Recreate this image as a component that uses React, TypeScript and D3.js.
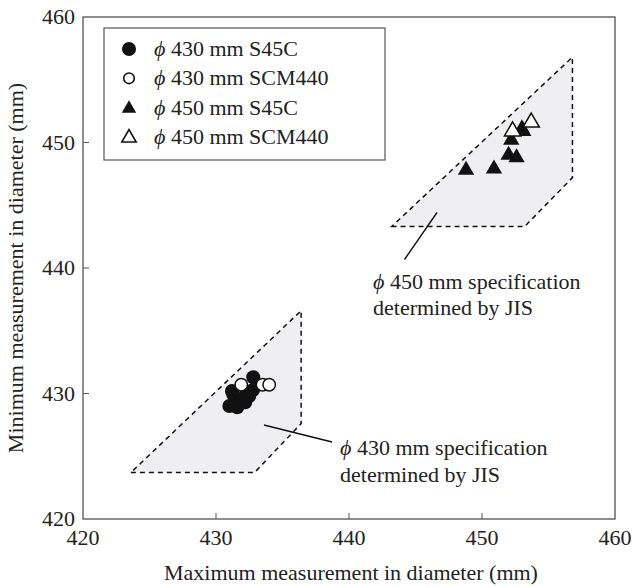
import * as d3 from "d3";

// measured points: [max diameter, min diameter]
const d430S45C: [number, number][] = [
  [431.0, 429.0], [431.3, 429.9], [431.6, 428.9], [431.8, 429.5], [432.2, 429.3],
  [432.3, 430.0], [432.8, 430.3], [432.8, 431.3], [431.2, 430.2], [432.5, 429.8],
];
const d430SCM440: [number, number][] = [[431.9, 430.7], [433.5, 430.7], [434.0, 430.7]];
const d450S45C: [number, number][] = [
  [448.8, 447.8], [450.9, 447.9], [452.0, 449.0], [452.6, 448.8],
  [452.2, 450.2], [453.0, 451.1], [453.1, 450.9],
];
const d450SCM440: [number, number][] = [[452.3, 450.9], [453.7, 451.6]];

// JIS specification regions (polygon vertices)
const spec430: [number, number][] = [[423.6, 423.7], [432.9, 423.7], [436.4, 427.6], [436.4, 436.6]];
const spec450: [number, number][] = [[443.2, 443.3], [453.2, 443.3], [456.8, 447.2], [456.8, 456.8]];

const ticks = [420, 430, 440, 450, 460];
const legendItems = [
  { label: "430 mm S45C", shape: "circle", filled: true },
  { label: "430 mm SCM440", shape: "circle", filled: false },
  { label: "450 mm S45C", shape: "triangle", filled: true },
  { label: "450 mm SCM440", shape: "triangle", filled: false },
];

const PHI = "\u03D5";

export default function App() {
  const width = 632;
  const height = 587;
  const left = 83, right = 615, top = 17, bottom = 519;
  const font = "Liberation Serif";
  const ink = "#222";

  const x = d3.scaleLinear().domain([420, 460]).range([left, right]);
  const y = d3.scaleLinear().domain([420, 460]).range([bottom, top]);

  const tri = d3.symbol().type(d3.symbolTriangle).size(115)();
  const triLegend = d3.symbol().type(d3.symbolTriangle).size(90)();

  const poly = (pts: [number, number][]) =>
    pts.map(p => `${x(p[0])},${y(p[1])}`).join(" ");

  return (
    <svg width={width} height={height} style={{ position: "absolute", left: 0, top: 0, background: "#fff" }}>
      {/* spec regions */}
      {[spec430, spec450].map((s, i) => (
        <polygon key={i} points={poly(s)} fill="#efeff2" stroke="#111"
          strokeWidth={1.5} strokeDasharray="5,4" />
      ))}

      {/* frame */}
      <rect x={left} y={top} width={right - left} height={bottom - top}
        fill="none" stroke="#444" strokeWidth={1.2} />

      {/* ticks */}
      {ticks.slice(1, -1).map(t => (
        <g key={t}>
          <line x1={x(t)} x2={x(t)} y1={bottom} y2={bottom - 6} stroke="#555" />
          <line x1={left} x2={left + 6} y1={y(t)} y2={y(t)} stroke="#555" />
        </g>
      ))}
      {ticks.map(t => (
        <g key={"l" + t} fontFamily={font} fontSize={22} fill={ink}>
          <text x={x(t)} y={545} textAnchor="middle">{t}</text>
          <text x={75} y={y(t) + 7} textAnchor="end">{t}</text>
        </g>
      ))}

      {/* axis titles */}
      <text x={(left + right) / 2 + 2} y={580} textAnchor="middle" fontFamily={font} fontSize={22} fill={ink}>
        Maximum measurement in diameter (mm)
      </text>
      <text transform={`translate(23,${(top + bottom) / 2}) rotate(-90)`} textAnchor="middle"
        fontFamily={font} fontSize={22} fill={ink}>
        Minimum measurement in diameter (mm)
      </text>

      {/* points */}
      {d430S45C.map((d, i) => (
        <circle key={"a" + i} cx={x(d[0])} cy={y(d[1])} r={7} fill="#111" />
      ))}
      {d430SCM440.map((d, i) => (
        <circle key={"b" + i} cx={x(d[0])} cy={y(d[1])} r={6.2} fill="#fff" stroke="#111" strokeWidth={1.5} />
      ))}
      {d450S45C.map((d, i) => (
        <path key={"c" + i} d={tri!} transform={`translate(${x(d[0])},${y(d[1])})`} fill="#111" />
      ))}
      {d450SCM440.map((d, i) => (
        <path key={"e" + i} d={tri!} transform={`translate(${x(d[0])},${y(d[1])})`}
          fill="#fff" stroke="#111" strokeWidth={1.5} />
      ))}

      {/* annotations */}
      <line x1={437} y1={212.5} x2={404.5} y2={259.5} stroke="#111" strokeWidth={1.4} />
      <text x={373} y={289} fontFamily={font} fontSize={22} fill={ink}>
        <tspan fontStyle="italic">{PHI}</tspan> 450 mm specification
      </text>
      <text x={373} y={314.5} fontFamily={font} fontSize={22} fill={ink}>determined by JIS</text>

      <line x1={264} y1={425} x2={332} y2={442} stroke="#111" strokeWidth={1.4} />
      <text x={340} y={455} fontFamily={font} fontSize={22} fill={ink}>
        <tspan fontStyle="italic">{PHI}</tspan> 430 mm specification
      </text>
      <text x={340} y={482} fontFamily={font} fontSize={22} fill={ink}>determined by JIS</text>

      {/* legend */}
      <rect x={104} y={28} width={281} height={132} fill="#fff" stroke="#555" strokeWidth={1.2} />
      {legendItems.map((it, i) => {
        const cy = 49 + i * 29.3;
        return (
          <g key={it.label}>
            {it.shape === "circle" ? (
              <circle cx={129} cy={cy} r={it.filled ? 7 : 5.3} fill={it.filled ? "#111" : "#fff"}
                stroke="#111" strokeWidth={it.filled ? 0 : 1.6} />
            ) : (
              <path d={triLegend!} transform={`translate(129,${cy + 1})`} fill={it.filled ? "#111" : "#fff"}
                stroke="#111" strokeWidth={it.filled ? 0 : 1.6} />
            )}
            <text x={154} y={cy + 7} fontFamily={font} fontSize={22} fill={ink}>
              <tspan fontStyle="italic">{PHI}</tspan> {it.label}
            </text>
          </g>
        );
      })}
    </svg>
  );
}
